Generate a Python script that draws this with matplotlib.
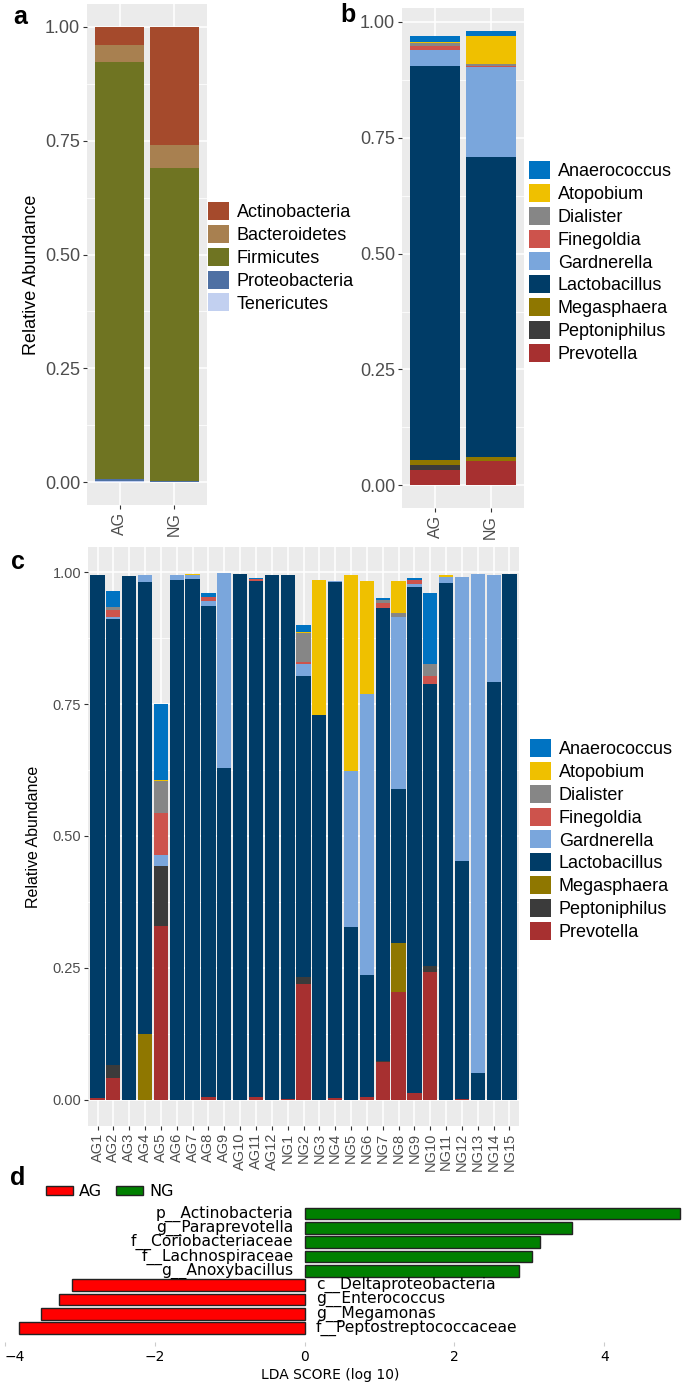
import matplotlib
matplotlib.use("Agg")
import matplotlib.pyplot as plt
from matplotlib.patches import Patch
import numpy as np

W, H = 685, 1385

# panel a: phylum level, group means
phyla = ["Actinobacteria", "Bacteroidetes", "Firmicutes", "Proteobacteria", "Tenericutes"]
phylum_colors = ["#A54A2C", "#A88050", "#6F7422", "#4E70A3", "#C2D0F0"]
phylum_ag = [0.040, 0.038, 0.916, 0.003, 0.003]
phylum_ng = [0.259, 0.051, 0.688, 0.001, 0.001]

# panel b: genus level, group means
genera = ["Anaerococcus", "Atopobium", "Dialister", "Finegoldia", "Gardnerella",
          "Lactobacillus", "Megasphaera", "Peptoniphilus", "Prevotella"]
genus_colors = ["#0073C2", "#EFC000", "#868686", "#CD534C", "#7AA6DC",
                "#003C67", "#8F7700", "#3B3B3B", "#A73030"]
genus_ag = [0.012, 0.002, 0.008, 0.008, 0.035, 0.850, 0.010, 0.012, 0.032]
genus_ng = [0.011, 0.060, 0.005, 0.003, 0.193, 0.649, 0.007, 0.001, 0.052]

# panel c: genus level, per sample
samples = [f"AG{i}" for i in range(1, 13)] + [f"NG{i}" for i in range(1, 16)]
anaerococcus = [0, 0.030, 0, 0, 0.143, 0, 0, 0.006, 0, 0, 0.003, 0,
                0, 0.013, 0, 0, 0, 0, 0.004, 0, 0.003, 0.135, 0, 0, 0, 0, 0]
atopobium = [0, 0, 0, 0, 0.002, 0, 0.002, 0, 0, 0, 0, 0,
             0, 0.003, 0.256, 0, 0.371, 0.214, 0, 0.062, 0, 0, 0.003, 0, 0, 0, 0]
dialister = [0, 0.006, 0, 0, 0.061, 0, 0, 0.001, 0, 0, 0, 0.001,
             0, 0.054, 0.001, 0, 0, 0, 0.007, 0.006, 0, 0.023, 0, 0, 0, 0, 0]
finegoldia = [0, 0.014, 0, 0, 0.080, 0, 0, 0.007, 0, 0, 0.003, 0,
              0, 0.004, 0, 0, 0, 0, 0.008, 0, 0.009, 0.015, 0, 0, 0, 0, 0]
gardnerella = [0, 0.003, 0, 0.012, 0.020, 0.008, 0.007, 0.009, 0.369, 0, 0, 0,
               0, 0.022, 0, 0.002, 0.297, 0.532, 0, 0.327, 0.004, 0, 0.011, 0.539, 0.947, 0.203, 0]
lactobacillus = [0.992, 0.846, 0.993, 0.858, 0, 0.986, 0.987, 0.932, 0.629, 0.996, 0.979, 0.994,
                 0.993, 0.572, 0.729, 0.979, 0.327, 0.231, 0.859, 0.292, 0.960, 0.534, 0.980, 0.450, 0.050, 0.792, 0.996]
megasphaera = [0, 0, 0, 0.124, 0, 0, 0, 0, 0, 0, 0, 0,
               0, 0, 0, 0, 0, 0, 0, 0.093, 0, 0, 0, 0, 0, 0, 0]
peptoniphilus = [0, 0.024, 0, 0, 0.114, 0, 0, 0, 0, 0, 0, 0,
                 0, 0.012, 0, 0, 0, 0, 0.003, 0, 0, 0.011, 0, 0, 0, 0, 0]
prevotella = [0.003, 0.042, 0, 0, 0.330, 0, 0, 0.005, 0, 0, 0.005, 0,
              0.002, 0.220, 0, 0.003, 0, 0.006, 0.071, 0.204, 0.013, 0.243, 0, 0.002, 0, 0, 0]
sample_genus = [anaerococcus, atopobium, dialister, finegoldia, gardnerella,
                lactobacillus, megasphaera, peptoniphilus, prevotella]

# panel d: LEfSe LDA scores
lda_taxa = ["f__Peptostreptococcaceae", "g__Megamonas", "g__Enterococcus",
            "c__Deltaproteobacteria", "g__Anoxybacillus", "f__Lachnospiraceae",
            "f__Coriobacteriaceae", "g__Paraprevotella", "p__Actinobacteria"]
lda_scores = [-3.81, -3.51, -3.27, -3.10, 2.86, 3.04, 3.14, 3.57, 5.01]
lda_groups = ["AG", "AG", "AG", "AG", "NG", "NG", "NG", "NG", "NG"]
group_colors = {"AG": "#FF0000", "NG": "#008000"}

plt.rcParams["font.family"] = ["Liberation Sans", "DejaVu Sans"]


def px_axes(fig, x0, y0, x1, y1):
    return fig.add_axes([x0 / W, 1 - y1 / H, (x1 - x0) / W, (y1 - y0) / H])


def gg_style(ax, ylim, n, tick_size):
    ax.set_facecolor("#EBEBEB")
    for spine in ax.spines.values():
        spine.set_visible(False)
    ax.set_xlim(-0.6, n - 0.4)
    ax.set_ylim(*ylim)
    ax.set_yticks([0, 0.25, 0.5, 0.75, 1.0], ["0.00", "0.25", "0.50", "0.75", "1.00"])
    ax.set_yticks([0.125, 0.375, 0.625, 0.875], minor=True)
    ax.grid(which="major", color="white", lw=1.1)
    ax.grid(which="minor", axis="y", color="white", lw=0.55)
    ax.set_axisbelow(True)
    ax.tick_params(which="major", length=3, width=0.8, color="#333333",
                   labelcolor="#4D4D4D", labelsize=tick_size, pad=2)
    ax.tick_params(which="minor", length=0)


def stack(ax, table, colors):
    # table[k][i]: value of category k in bar i; first category sits on top
    x = np.arange(len(table[0]))
    bottom = np.zeros(len(x))
    for values, color in zip(table[::-1], colors[::-1]):
        ax.bar(x, values, bottom=bottom, width=0.9, color=color, lw=0)
        bottom += np.asarray(values)


def key_legend(fig, names, colors, x, y):
    handles = [Patch(facecolor=c, edgecolor="none") for c in colors]
    fig.legend(handles, names, loc="upper left", bbox_to_anchor=(x / W, 1 - y / H),
               frameon=False, borderpad=0, borderaxespad=0, fontsize=13,
               handlelength=1.15, handleheight=1.15, labelspacing=0.21, handletextpad=0.45)


fig = plt.figure(figsize=(W / 100, H / 100), dpi=100)

# a
ax_a = px_axes(fig, 87, 4, 207, 505)
gg_style(ax_a, (-0.05, 1.05), 2, 13)
stack(ax_a, [list(v) for v in zip(phylum_ag, phylum_ng)], phylum_colors)
ax_a.set_xticks([0, 1], ["AG", "NG"], rotation=90, fontsize=11.5)
ax_a.set_ylabel("Relative Abundance", fontsize=13)
ax_a.yaxis.set_label_coords(-0.39, 0.46)
key_legend(fig, phyla, phylum_colors, 208, 202)

# b
ax_b = px_axes(fig, 402, 8, 524, 508)
gg_style(ax_b, (-0.049, 1.030), 2, 13)
stack(ax_b, [list(v) for v in zip(genus_ag, genus_ng)], genus_colors)
ax_b.set_xticks([0, 1], ["AG", "NG"], rotation=90, fontsize=11.5)
key_legend(fig, genera, genus_colors, 529, 161)

# c
ax_c = px_axes(fig, 88, 547, 519, 1126)
gg_style(ax_c, (-0.0499, 1.048), len(samples), 10.5)
stack(ax_c, sample_genus, genus_colors)
ax_c.set_xticks(np.arange(len(samples)), samples, rotation=90, fontsize=10.5)
ax_c.set_ylabel("Relative Abundance", fontsize=11.5)
ax_c.yaxis.set_label_coords(-0.108, 0.5)
key_legend(fig, genera, genus_colors, 530, 739)

# d
ax_d = px_axes(fig, 4, 1205, 683, 1342)
ypos = np.arange(len(lda_taxa))
ax_d.barh(ypos, lda_scores, height=0.82, color=[group_colors[g] for g in lda_groups],
          edgecolor="#222222", lw=1.0)
for y, name, score in zip(ypos, lda_taxa, lda_scores):
    side = -1 if score > 0 else 1
    ax_d.annotate(name, (0, y), xytext=(8 * side, 0), textcoords="offset points",
                  ha="right" if score > 0 else "left", va="center",
                  fontsize=11.2, family="DejaVu Sans")
ax_d.set_xlim(-4.01, 5.05)
ax_d.set_ylim(-0.98, 8.6)
ax_d.set_yticks([])
for spine in ax_d.spines.values():
    spine.set_visible(False)
ax_d.set_xticks([-4, -2, 0, 2, 4])
ax_d.tick_params(axis="x", length=3, color="#CCCCCC", labelsize=10, pad=3)
for label in ax_d.get_xticklabels():
    label.set_family("DejaVu Sans")
ax_d.get_xticklabels()[0].set_horizontalalignment("left")
ax_d.set_xlabel("LDA SCORE (log 10)", fontsize=10, family="DejaVu Sans")
ax_d.xaxis.set_label_coords(0.48, -0.19)
fig.legend([Patch(facecolor=group_colors[g], edgecolor="#222222", lw=1.0) for g in ["AG", "NG"]],
           ["AG", "NG"], loc="upper left", bbox_to_anchor=(46 / W, 1 - 1184 / H), ncol=2,
           frameon=False, borderpad=0, borderaxespad=0, handlelength=1.7, handleheight=0.55,
           handletextpad=0.35, columnspacing=0.9, prop={"family": "DejaVu Sans", "size": 11.5})

for letter, x, y in [("a", 20, 17), ("b", 348, 15), ("c", 18, 562), ("d", 18, 1178)]:
    fig.text(x / W, 1 - y / H, letter, fontsize=18, fontweight="bold", ha="center", va="center")

fig.savefig("out.png", dpi=100)
